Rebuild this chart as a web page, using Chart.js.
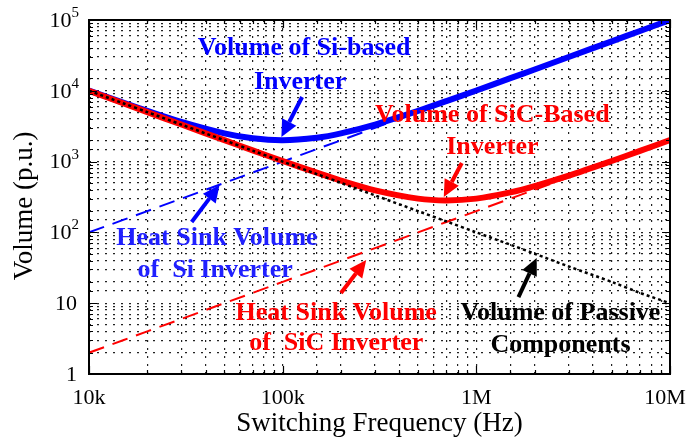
<!DOCTYPE html>
<html>
<head>
<meta charset="utf-8">
<script src="https://cdn.jsdelivr.net/npm/chart.js@4"></script>
<style>
  html, body { margin: 0; padding: 0; background: #fff; }
  #wrap { width: 691px; height: 439px; position: relative; }
</style>
</head>
<body>
<div id="wrap"><canvas id="myChart"></canvas></div>
<script>
// switching frequency in Hz
let freqs = [1e4, 1.5e4, 2e4, 3e4, 5e4, 7e4, 1e5, 1.5e5, 2e5, 3e5, 5e5, 7e5, 1e6, 1.5e6, 2e6, 3e6, 5e6, 7e6, 1e7];

// volumes (p.u.)
let passief   = [10000, 6670, 5000, 3330, 2000, 1430, 1000, 667, 500, 333, 200, 143, 100, 67, 50, 33, 20, 14, 10];
let siTotaal  = [10100, 6820, 5200, 3630, 2500, 2130, 2000, 2170, 2500, 3330, 5200, 7140, 10100, 15100, 20000, 30000, 50000, 70000, 100000];
let sicTotaal = [10000, 6670, 5000, 3340, 2010, 1440, 1020, 697, 540, 393, 300, 283, 300, 367, 450, 633, 1020, 1414, 2010];
let siKoel    = [100, 150, 200, 300, 500, 700, 1000, 1500, 2000, 3000, 5000, 7000, 10000, 15000, 20000, 30000, 50000, 70000, 100000];
let sicKoel   = [2, 3, 4, 6, 10, 14, 20, 30, 40, 60, 100, 140, 200, 300, 400, 600, 1000, 1400, 2000];

let xTicks = [1e4, 1e5, 1e6, 1e7];
let xLabels = ["10k", "100k", "1M", "10M"];
let yTicks = [1, 10, 100, 1000, 10000, 100000];

// annotation texts: [text, freq, volume, colour]
let teksten = [
    ["Volume of Si-based", 1.29e5, 40000, "#0000ff"],
    ["Inverter", 1.23e5, 13300, "#0000ff"],
    ["Volume of SiC-Based", 1.21e6, 4550, "#ff0000"],
    ["Inverter", 1.21e6, 1610, "#ff0000"],
    ["Heat Sink Volume", 4.58e4, 83, "#2020ff"],
    ["of  Si Inverter", 4.48e4, 29.5, "#2020ff"],
    ["Heat Sink Volume", 1.89e5, 7.3, "#ff0000"],
    ["of  SiC Inverter", 1.89e5, 2.74, "#ff0000"],
    ["Volume of Passive", 2.72e6, 7.3, "#000000"],
    ["Components", 2.72e6, 2.57, "#000000"]
];
// arrows: [freq from, vol from, freq to, vol to, colour]
let pijlen = [
    [1.26e5, 8170, 9.85e4, 2220, "#0000ff"],
    [8.41e5, 955, 6.79e5, 316, "#ff0000"],
    [3.39e4, 140, 4.72e4, 467, "#0000ff"],
    [2.0e5, 13.9, 2.7e5, 40.7, "#ff0000"],
    [1.65e6, 12.2, 2.05e6, 43.5, "#000000"]
];

function punten(ys) {
    return freqs.map((f, i) => ({x: f, y: ys[i]}));
}

const serif = "'Liberation Serif', 'Times New Roman', serif";

const kaderEnTekst = {
    id: "kaderEnTekst",
    afterDraw(chart) {
        const ctx = chart.ctx;
        const {left, right, top, bottom} = chart.chartArea;
        const xs = chart.scales.x, ys = chart.scales.y;
        ctx.save();

        // inward ticks
        ctx.strokeStyle = "#000";
        ctx.lineWidth = 1.2;
        ctx.setLineDash([]);
        xs.ticks.forEach(t => {
            const px = Math.round(xs.getPixelForValue(t.value)) + 0.5;
            const len = xTicks.includes(t.value) ? 8 : 4;
            ctx.beginPath();
            ctx.moveTo(px, bottom); ctx.lineTo(px, bottom - len);
            ctx.moveTo(px, top); ctx.lineTo(px, top + len);
            ctx.stroke();
        });
        ys.ticks.forEach(t => {
            const py = Math.round(ys.getPixelForValue(t.value)) + 0.5;
            const len = yTicks.includes(t.value) ? 8 : 4;
            ctx.beginPath();
            ctx.moveTo(left, py); ctx.lineTo(left + len, py);
            ctx.moveTo(right, py); ctx.lineTo(right - len, py);
            ctx.stroke();
        });

        // frame
        ctx.lineWidth = 2;
        ctx.strokeRect(left, top, right - left, bottom - top);

        // x tick labels
        ctx.fillStyle = "#000";
        ctx.textBaseline = "middle";
        ctx.textAlign = "center";
        ctx.font = "22px " + serif;
        xTicks.forEach((v, i) => {
            let px = xs.getPixelForValue(v);
            if (i === xTicks.length - 1) px -= 5;
            ctx.fillText(xLabels[i], px, bottom + 24);
        });

        // y tick labels with superscripts
        yTicks.forEach(v => {
            const py = ys.getPixelForValue(v);
            const macht = Math.round(Math.log10(v));
            ctx.textAlign = "right";
            if (macht < 2) {
                ctx.font = "22px " + serif;
                ctx.fillText(String(v), 77, py + 1);
            } else {
                ctx.font = "15px " + serif;
                ctx.fillText(String(macht), 79, py - 7);
                const w = ctx.measureText(String(macht)).width;
                ctx.font = "22px " + serif;
                ctx.fillText("10", 79 - w, py + 1);
            }
        });

        // axis titles
        ctx.font = "27px " + serif;
        ctx.textAlign = "center";
        ctx.fillText("Switching Frequency (Hz)", (left + right) / 2, 424);
        ctx.save();
        ctx.translate(25, 206);
        ctx.rotate(-Math.PI / 2);
        ctx.fillText("Volume (p.u.)", 0, 0);
        ctx.restore();

        // arrows
        pijlen.forEach(p => {
            const x1 = xs.getPixelForValue(p[0]), y1 = ys.getPixelForValue(p[1]);
            const x2 = xs.getPixelForValue(p[2]), y2 = ys.getPixelForValue(p[3]);
            const hoek = Math.atan2(y2 - y1, x2 - x1);
            const kop = 17, breed = 8;
            const bx = x2 - kop * Math.cos(hoek), by = y2 - kop * Math.sin(hoek);
            ctx.strokeStyle = p[4];
            ctx.fillStyle = p[4];
            ctx.lineWidth = 4;
            ctx.beginPath();
            ctx.moveTo(x1, y1);
            ctx.lineTo(bx, by);
            ctx.stroke();
            ctx.beginPath();
            ctx.moveTo(x2, y2);
            ctx.lineTo(bx + breed * Math.sin(hoek), by - breed * Math.cos(hoek));
            ctx.lineTo(bx - breed * Math.sin(hoek), by + breed * Math.cos(hoek));
            ctx.closePath();
            ctx.fill();
        });

        // annotation text
        ctx.font = "bold 26px " + serif;
        ctx.textAlign = "center";
        ctx.textBaseline = "middle";
        teksten.forEach(t => {
            ctx.fillStyle = t[3];
            ctx.fillText(t[0], xs.getPixelForValue(t[1]), ys.getPixelForValue(t[2]));
        });
        ctx.restore();
    }
};

const config = {
    type: "line",
    data: {
        datasets: [
            {label: "Volume of Passive Components", data: punten(passief), borderColor: "#000", borderWidth: 2.5, borderDash: [3, 3], pointRadius: 0, tension: 0.3},
            {label: "Volume of SiC-Based Inverter", data: punten(sicTotaal), borderColor: "#ff0000", borderWidth: 6, pointRadius: 0, tension: 0.3},
            {label: "Volume of Si-based Inverter", data: punten(siTotaal), borderColor: "#0000ff", borderWidth: 6, pointRadius: 0, tension: 0.3},
            {label: "Heat Sink Volume of SiC Inverter", data: punten(sicKoel), borderColor: "#ff0000", borderWidth: 2, borderDash: [16, 9], pointRadius: 0},
            {label: "Heat Sink Volume of Si Inverter", data: punten(siKoel), borderColor: "#0000ff", borderWidth: 2, borderDash: [16, 9], pointRadius: 0}
        ]
    },
    options: {
        responsive: true,
        maintainAspectRatio: false,
        animation: false,
        layout: {padding: {left: 0, right: 21, top: 20, bottom: 0}},
        plugins: {legend: {display: false}, tooltip: {enabled: false}},
        scales: {
            x: {
                type: "logarithmic",
                min: 1e4,
                max: 1e7,
                grid: {color: "#222", lineWidth: 1.2, drawTicks: false},
                border: {display: false, dash: [2, 6]},
                ticks: {autoSkip: false, maxRotation: 0, padding: 0, callback: () => ""},
                afterFit: s => { s.height = 65; }
            },
            y: {
                type: "logarithmic",
                min: 1,
                max: 1e5,
                grid: {color: "#222", lineWidth: 1.2, drawTicks: false},
                border: {display: false, dash: [2, 6]},
                ticks: {autoSkip: false, padding: 0, callback: () => ""},
                afterFit: s => { s.width = 89; }
            }
        }
    },
    plugins: [kaderEnTekst]
};

const myChart = new Chart(document.getElementById("myChart"), config);
</script>
</body>
</html>
